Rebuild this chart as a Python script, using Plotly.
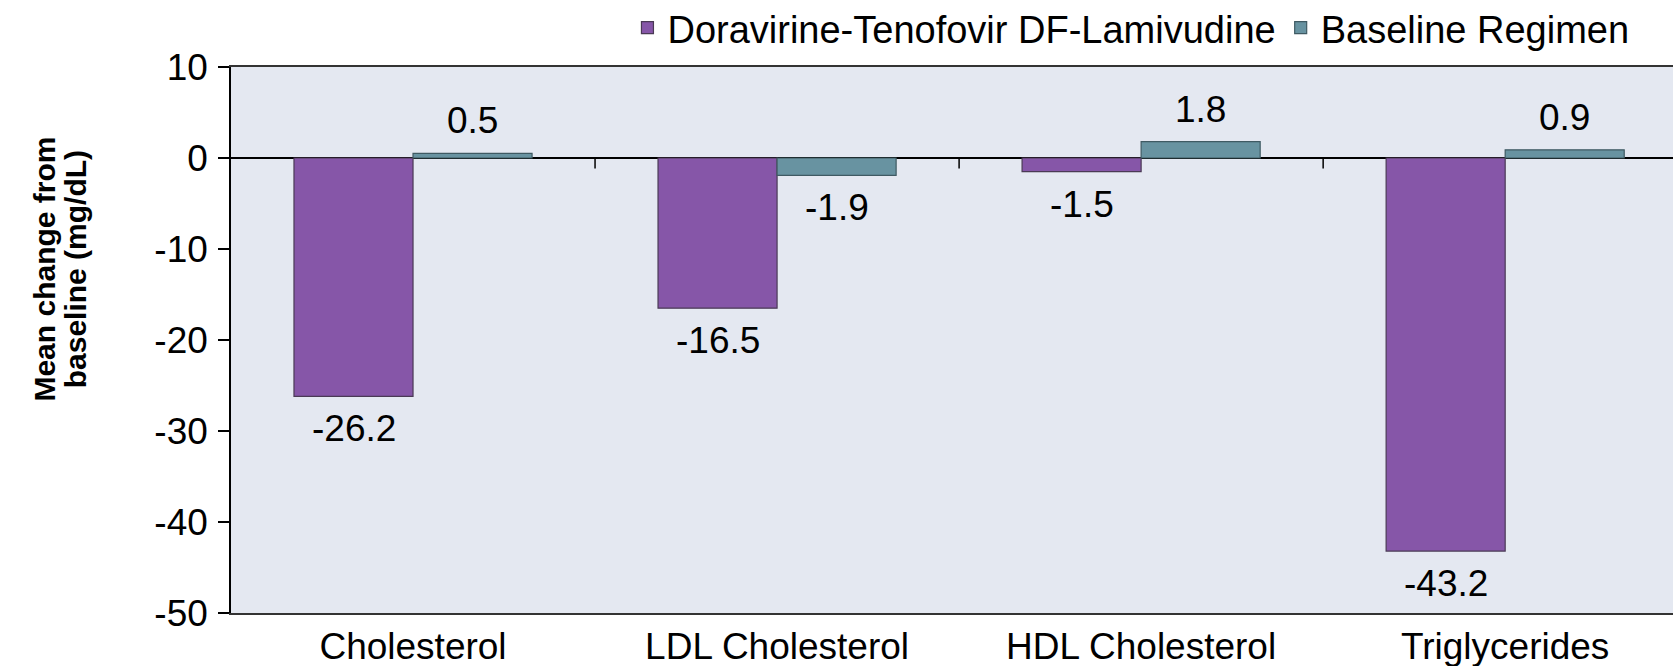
import plotly.graph_objects as go

categories = ["Cholesterol", "LDL Cholesterol", "HDL Cholesterol", "Triglycerides"]
dor_values = [-26.2, -16.5, -1.5, -43.2]
base_values = [0.5, -1.9, 1.8, 0.9]
series_names = ["Doravirine-Tenofovir DF-Lamivudine", "Baseline Regimen"]
y_ticks = [10, 0, -10, -20, -30, -40, -50]

FONT = "Liberation Sans, Arial, sans-serif"
PURPLE = "#8656A8"
TEAL = "#6893A1"
BARGAP = 0.346

fig = go.Figure()
fig.add_trace(go.Bar(x=categories, y=dor_values, name=series_names[0],
                     marker=dict(color=PURPLE, line=dict(color="#4a3a55", width=1.2))))
fig.add_trace(go.Bar(x=categories, y=base_values, name=series_names[1],
                     marker=dict(color=TEAL, line=dict(color="#3f5a63", width=1.2))))

# value labels
off = (1 - BARGAP) / 4
annotations = []
for k, vals in enumerate([dor_values, base_values]):
    for i, v in enumerate(vals):
        xpos = i - off if k == 0 else i + off
        annotations.append(dict(
            x=xpos, y=v, xref="x", yref="y", text=f"{v:.1f}", showarrow=False,
            yanchor="bottom" if v > 0 else "top", yshift=10 if v > 0 else -10,
            font=dict(family=FONT, size=37, color="#000000")))

# y-axis title (two lines)
annotations.append(dict(x=-0.130, y=0.63, xref="paper", yref="paper", text="<b>Mean change from</b>",
                        textangle=-90, showarrow=False, xanchor="center", yanchor="middle",
                        font=dict(family=FONT, size=30, color="#000000")))
annotations.append(dict(x=-0.108, y=0.63, xref="paper", yref="paper", text="<b>baseline (mg/dL)</b>",
                        textangle=-90, showarrow=False, xanchor="center", yanchor="middle",
                        font=dict(family=FONT, size=30, color="#000000")))

# small tick marks on the zero line at category boundaries
shapes = []
for b in [0.5, 1.5, 2.5]:
    shapes.append(dict(type="line", xref="x", yref="y", x0=b, x1=b, y0=0, y1=-1.15,
                       line=dict(color="#000000", width=1.5)))

fig.update_layout(
    width=1673, height=666,
    margin=dict(l=231, r=0, t=67, b=53, autoexpand=False),
    paper_bgcolor="#ffffff",
    plot_bgcolor="#E4E8F1",
    barmode="group", bargap=BARGAP, bargroupgap=0,
    font=dict(family=FONT, size=37, color="#000000"),
    legend=dict(orientation="h", xref="container", yref="container",
                x=0.676, xanchor="center", y=0.958, yanchor="middle",
                font=dict(family=FONT, size=38, color="#000000"),
                bgcolor="rgba(0,0,0,0)", itemwidth=30, tracegroupgap=0),
    annotations=annotations,
    shapes=shapes,
    xaxis=dict(type="category", range=[-0.5, 3.461], showgrid=False, showline=True,
               linecolor="#333333", linewidth=2, mirror=True, ticks="", automargin=False,
               tickfont=dict(family=FONT, size=37), ticklabelstandoff=0),
    yaxis=dict(range=[-50, 10], tickvals=y_ticks, ticktext=[str(t) for t in y_ticks],
               showgrid=False, zeroline=True, zerolinecolor="#000000", zerolinewidth=1.5,
               showline=True, linecolor="#000000", linewidth=1.5, ticks="outside",
               ticklen=11, tickcolor="#000000", tickwidth=1.5, automargin=False,
               tickfont=dict(family=FONT, size=37), ticklabelstandoff=3),
)

fig.write_html("out.html", config={"displayModeBar": False},
               post_script="document.body.style.margin='0';document.body.style.overflow='hidden';")
